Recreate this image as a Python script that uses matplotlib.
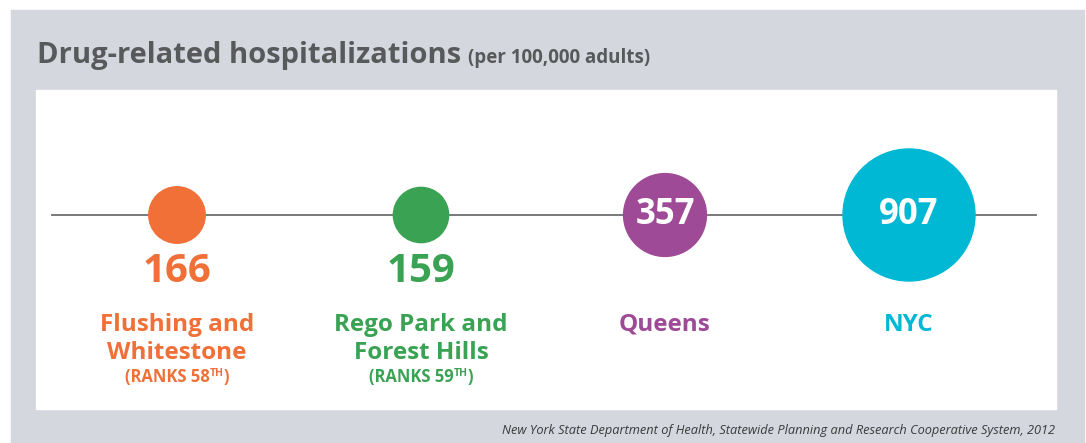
import numpy as np
import matplotlib.pyplot as plt
from matplotlib.patches import Circle, Rectangle

areas = [["Flushing and", "Whitestone"], ["Rego Park and", "Forest Hills"], ["Queens"], ["NYC"]]
rates = [166, 159, 357, 907]
ranks = ["58", "59", None, None]
colors = ["#f07038", "#3aa353", "#9e4a96", "#00b8d4"]

W, H = 1086, 443
fig = plt.figure(figsize=(W / 100, H / 100), dpi=100)
ax = fig.add_axes([0, 0, 1, 1])
ax.set_xlim(0, W)
ax.set_ylim(H, 0)
ax.axis("off")

FONT = ["Open Sans", "DejaVu Sans"]

# panels
ax.add_patch(Rectangle((11, 10), 1073, 440, color="#d4d7de", zorder=0))
ax.add_patch(Rectangle((36, 90), 1020, 319, color="white", zorder=1))

fig.canvas.draw()
rend = fig.canvas.get_renderer()

t = ax.text(37, 63, "Drug-related hospitalizations", family=FONT, weight="bold",
            fontsize=21, color="#58595b", va="baseline", zorder=3)
tx = t.get_window_extent(rend).x1
ax.text(tx + 7, 63, "(per 100,000 adults)", family=FONT, weight="bold",
        fontsize=13.5, color="#58595b", va="baseline", zorder=3)

# timeline
ax.plot([52, 1036], [215, 215], color="#6d6e71", lw=1.3, zorder=2)

k = 66 / np.sqrt(max(rates))
xs = 177 + 244 * np.arange(len(rates))

for i, (x, v, c) in enumerate(zip(xs, rates, colors)):
    r = k * np.sqrt(v)
    ax.add_patch(Circle((x, 215), r, color=c, zorder=3))
    if r > 40:
        ax.text(x, 224, str(v), ha="center", va="baseline", color="white",
                family=FONT, weight="bold", fontsize=25, zorder=4)
    else:
        ax.text(x, 215 + r + 39, str(v), ha="center", va="baseline", color=c,
                family=FONT, weight="bold", fontsize=29, zorder=4)
    for j, line in enumerate(areas[i]):
        ax.text(x, 331 + 28 * j, line, ha="center", va="baseline", color=c,
                family=FONT, weight="bold", fontsize=17.5, zorder=4)
    if ranks[i]:
        parts = [("(RANKS " + ranks[i], 12, 0), ("TH", 7.5, -6), (")", 12, 0)]
        objs = [ax.text(0, 0, s, family=FONT, weight="bold", fontsize=fs, color=c,
                        va="baseline", zorder=4) for s, fs, dy in parts]
        widths = [o.get_window_extent(rend).width for o in objs]
        widths[1] -= 1
        x0 = x - sum(widths) / 2
        for o, w, (s, fs, dy) in zip(objs, widths, parts):
            o.set_position((x0, 382 + dy))
            x0 += w

ax.text(1055, 434, "New York State Department of Health, Statewide Planning and Research Cooperative System, 2012",
        ha="right", va="baseline", family=FONT, style="italic", fontsize=9.2,
        color="#3a3a3a", zorder=3)

fig.savefig("out.png", dpi=100)
